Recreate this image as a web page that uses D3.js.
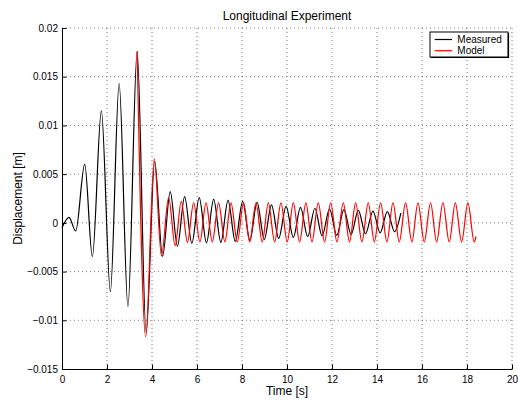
<!DOCTYPE html>
<html>
<head>
<meta charset="utf-8">
<script src="https://cdn.jsdelivr.net/npm/d3@7"></script>
<style>
  body { margin: 0; background: #fff; }
  svg { display: block; font-family: "Liberation Sans", Arial, Helvetica, sans-serif; }
</style>
</head>
<body>
<div id="chart"></div>
<script>
const measuredTime = [0, 0.31, 0.61, 1.01, 1.35, 1.75, 2.15, 2.54, 2.93, 3.34, 3.74, 4.12, 4.47, 4.81,
  5.13, 5.45, 5.77, 6.10, 6.42, 6.74, 7.06, 7.38, 7.70, 8.03, 8.35, 8.67, 8.99, 9.31, 9.63, 9.96,
  10.28, 10.60, 10.92, 11.24, 11.56, 11.89, 12.21, 12.53, 12.85, 13.17, 13.49, 13.82, 14.14, 14.46,
  14.78, 15.06];
const measuredDisp = [-0.0005, 0.00057, -0.00083, 0.0060, -0.00347, 0.0115, -0.00706, 0.0143, -0.0086,
  0.0176, -0.0113, 0.0063, -0.00345, 0.0032, -0.0024, 0.0027, -0.0021, 0.0026, -0.00205, 0.0024,
  -0.0020, 0.0023, -0.0019, 0.0022, -0.0018, 0.0021, -0.0017, 0.00185, -0.0016, 0.0017, -0.0015,
  0.00158, -0.00142, 0.0015, -0.00135, 0.00142, -0.00128, 0.00135, -0.0012, 0.00128, -0.00112,
  0.0012, -0.00102, 0.00115, -0.0009, 0.0010];

// Model response
const modelTime = [3.34, 3.72, 4.10, 4.42, 4.74, 5.03, 5.30, 5.575, 5.85, 6.13, 6.40, 6.68, 6.96, 7.24,
  7.51, 7.79, 8.07, 8.34, 8.62, 8.90, 9.17, 9.45, 9.73, 10.01, 10.28, 10.56, 10.84, 11.11, 11.39,
  11.67, 11.94, 12.22, 12.50, 12.78, 13.05, 13.33, 13.61, 13.88, 14.16, 14.44, 14.71, 14.99, 15.27,
  15.55, 15.82, 16.10, 16.38, 16.65, 16.93, 17.21, 17.48, 17.76, 18.04, 18.32, 18.40];
const modelDisp = [0.0176, -0.0117, 0.0066, -0.0034, 0.0026, -0.00235, 0.0022, -0.0020, 0.00205,
  -0.00195, 0.00205, -0.00195, 0.00205, -0.00195, 0.00205, -0.00195, 0.00205, -0.00195, 0.00205,
  -0.00195, 0.00205, -0.00195, 0.00205, -0.00195, 0.00205, -0.00195, 0.00205, -0.00195, 0.00205,
  -0.00195, 0.00205, -0.00195, 0.00205, -0.00195, 0.00205, -0.00195, 0.00205, -0.00195, 0.00205,
  -0.00195, 0.00205, -0.00195, 0.00205, -0.00195, 0.00205, -0.00195, 0.00205, -0.00195, 0.00205,
  -0.00195, 0.00205, -0.00195, 0.00205, -0.00195, -0.0014];

const xTicks = [0, 2, 4, 6, 8, 10, 12, 14, 16, 18, 20];
const xTickLabels = ["0", "2", "4", "6", "8", "10", "12", "14", "16", "18", "20"];
const yTicks = [-0.015, -0.01, -0.005, 0, 0.005, 0.01, 0.015, 0.02];
const yTickLabels = ["\u22120.015", "\u22120.01", "\u22120.005", "0", "0.005", "0.01", "0.015", "0.02"];
const seriesNames = ["Measured", "Model"];
const seriesColors = ["#000000", "#ff0000"];

const margin = {top: 28, right: 6, bottom: 32, left: 62},
    width = 518 - margin.left - margin.right,
    height = 401 - margin.top - margin.bottom;

const root = d3.select("#chart")
    .append("svg")
    .attr("width", width + margin.left + margin.right)
    .attr("height", height + margin.top + margin.bottom);

const svg = root.append("g")
    .attr("transform", `translate(${margin.left}, ${margin.top})`);

const x = d3.scaleLinear().domain([0, 20]).range([0, width]);
const y = d3.scaleLinear().domain([-0.015, 0.02]).range([height, 0]);

// dotted grid
svg.append("g")
    .selectAll("line")
    .data(xTicks.slice(1))
    .join("line")
    .attr("x1", d => x(d)).attr("x2", d => x(d))
    .attr("y1", 0).attr("y2", height)
    .attr("stroke", "#777")
    .attr("stroke-dasharray", "1,3");
svg.append("g")
    .selectAll("line")
    .data(yTicks.slice(1))
    .join("line")
    .attr("x1", 0).attr("x2", width)
    .attr("y1", d => y(d)).attr("y2", d => y(d))
    .attr("stroke", "#777")
    .attr("stroke-dasharray", "1,3");

// axes, ticks pointing inward
const xAxis = svg.append("g")
    .attr("transform", `translate(0, ${height})`)
    .call(d3.axisBottom(x).tickValues(xTicks)
        .tickFormat((d, i) => xTickLabels[i])
        .tickSizeInner(-4.5).tickSizeOuter(0).tickPadding(6.5));
const yAxis = svg.append("g")
    .call(d3.axisLeft(y).tickValues(yTicks)
        .tickFormat((d, i) => yTickLabels[i])
        .tickSizeInner(-4.5).tickSizeOuter(0).tickPadding(4));
[xAxis, yAxis].forEach(a => {
    a.selectAll("text").attr("font-size", 10).attr("fill", "#000")
        .attr("font-family", "'Liberation Sans', Arial, sans-serif");
    a.selectAll("line, path").attr("stroke", "#000");
});

// series
const line = d3.line()
    .x(d => x(d[0]))
    .y(d => y(d[1]))
    .curve(d3.curveMonotoneX);

const series = [
    measuredTime.map((t, i) => [t, measuredDisp[i]]),
    modelTime.map((t, i) => [t, modelDisp[i]])
];
series.forEach((pts, i) => {
    svg.append("path")
        .datum(pts)
        .attr("fill", "none")
        .attr("stroke", seriesColors[i])
        .attr("stroke-width", 1.2)
        .attr("d", line);
});

// title and labels
root.append("text")
    .attr("text-anchor", "middle")
    .attr("x", margin.left + width / 2)
    .attr("y", 20)
    .attr("font-size", 12)
    .text("Longitudinal Experiment");
root.append("text")
    .attr("text-anchor", "middle")
    .attr("x", margin.left + width / 2)
    .attr("y", 394.5)
    .attr("font-size", 12)
    .text("Time [s]");
root.append("text")
    .attr("text-anchor", "middle")
    .attr("transform", `translate(22, ${margin.top + height / 2}) rotate(-90)`)
    .attr("font-size", 12)
    .text("Displacement [m]");

// legend
const legend = svg.append("g")
    .attr("transform", `translate(${width - 82}, 4)`);
legend.append("rect")
    .attr("width", 78).attr("height", 25)
    .attr("fill", "#fff").attr("stroke", "#000").attr("stroke-width", 1);
legend.append("path")
    .attr("d", "M1,25.5 H78.5 V1")
    .attr("fill", "none").attr("stroke", "#000").attr("stroke-width", 1.2);
seriesNames.forEach((name, i) => {
    const ry = 7.5 + i * 11.2;
    legend.append("line")
        .attr("x1", 4.7).attr("x2", 22)
        .attr("y1", ry).attr("y2", ry)
        .attr("stroke", seriesColors[i]).attr("stroke-width", 1.2);
    legend.append("text")
        .attr("x", 27.3).attr("y", ry)
        .attr("dy", "0.35em")
        .attr("font-size", 10)
        .text(name);
});
</script>
</body>
</html>
